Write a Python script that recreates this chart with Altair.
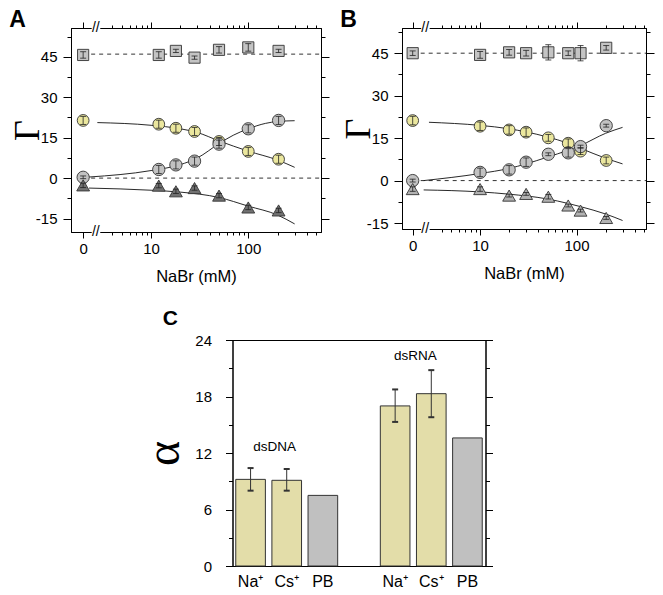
import altair as alt
import pandas as pd

ZERO_AT = 2          # axis position (mM, log scale) where the "0" salt point is drawn
BREAK_AT = 2.7       # position of the axis break marks
BREAK_LO, BREAK_HI = 2.45, 3.0

# ---------------- Panel A ----------------
A_conc = [0, 12, 18, 28, 50, 100, 205]
A_square = [45.7, 45.7, 47.2, 44.7, 47.6, 48.5, 47.2]
A_square_err = [1.2, 1.2, 0.6, 0.6, 1.2, 1.4, 0.6]
A_yellow = [21.4, 20.0, 18.5, 17.3, 13.6, 9.9, 7.0]
A_yellow_err = [1.5, 1.5, 1.5, 1.5, 1.5, 1.5, 1.5]
A_gray = [0.3, 3.2, 4.9, 6.3, 12.6, 18.3, 21.4]
A_gray_err = [0.5, 1.5, 1.5, 1.5, 1.5, 1.5, 1.5]
A_tri = [-2.7, -2.8, -4.9, -3.7, -6.5, -10.9, -12.0]
A_tri_err = [0.8, 0.8, 0.8, 0.8, 0.8, 0.8, 0.8]
A_fit_yellow_x = [2.8, 10, 20, 30, 50, 100, 200, 300]
A_fit_yellow_y = [20.6, 19.6, 18.3, 16.9, 13.8, 10.0, 6.7, 4.0]
A_fit_gray_x = [2.3, 10, 20, 30, 50, 70, 100, 150, 200, 300]
A_fit_gray_y = [0.4, 2.8, 5.0, 7.5, 12.8, 15.9, 18.3, 20.3, 21.0, 21.3]
A_fit_tri_x = [2.3, 10, 20, 50, 100, 200, 300]
A_fit_tri_y = [-3.7, -4.5, -5.2, -7.2, -10.4, -13.7, -17.0]
A_dash = [46, 0]
A_fills = ["#c4c4c4", "#ebe79e", "#c2c2c2", "#727272"]

# ---------------- Panel B ----------------
B_conc = [0, 10, 20, 30, 51, 82, 110, 203]
B_square = [45.0, 44.4, 45.3, 45.0, 45.3, 45.0, 45.0, 46.9]
B_square_err = [0.8, 1.2, 1.0, 1.0, 2.7, 0.8, 2.7, 0.8]
B_yellow = [21.2, 19.2, 17.9, 17.1, 15.1, 13.2, 10.4, 7.1]
B_yellow_err = [1.5, 1.5, 1.5, 1.5, 1.2, 1.5, 1.2, 1.2]
B_gray = [0.0, 2.9, 3.8, 6.5, 9.3, 9.8, 12.0, 19.4]
B_gray_err = [0.5, 1.5, 1.5, 1.5, 0.5, 1.5, 0.5, 0.5]
B_tri = [-3.0, -3.0, -5.3, -4.7, -5.7, -8.8, -10.6, -13.2]
B_tri_err = [0.8, 0.8, 0.5, 0.5, 0.8, 0.5, 0.5, 0.5]
B_fit_yellow_x = [2.95, 10, 20, 30, 50, 80, 110, 200, 300]
B_fit_yellow_y = [20.6, 19.5, 18.3, 17.2, 15.4, 13.3, 11.4, 7.9, 5.9]
B_fit_gray_x = [2.6, 10, 20, 30, 50, 80, 110, 200, 300]
B_fit_gray_y = [0.0, 2.5, 4.3, 5.9, 8.3, 10.6, 12.4, 16.7, 18.8]
B_fit_tri_x = [2.6, 10, 20, 50, 80, 110, 200, 300]
B_fit_tri_y = [-3.3, -4.0, -4.8, -6.5, -8.0, -9.2, -11.8, -14.1]
B_dash = [45, 0]
B_fills = ["#c4c4c4", "#ebe79e", "#c2c2c2", "#b2b2b2"]

# ---------------- Panel C ----------------
C_keys = ["1|Na⁺", "2|Cs⁺", "3|PB", "4|", "5|Na⁺", "6|Cs⁺", "7|PB"]
C_bar_keys = ["1|Na⁺", "2|Cs⁺", "3|PB", "5|Na⁺", "6|Cs⁺", "7|PB"]
C_values = [9.2, 9.1, 7.5, 17.0, 18.3, 13.6]
C_kind = ["ion", "ion", "pb", "ion", "ion", "pb"]
C_err_keys = ["1|Na⁺", "2|Cs⁺", "5|Na⁺", "6|Cs⁺"]
C_err_lo = [8.0, 8.0, 15.3, 15.8]
C_err_hi = [10.4, 10.3, 18.75, 20.8]
C_label_DNA = ("dsDNA", "2|Cs⁺", 12.6)
C_label_RNA = ("dsRNA", "6|Cs⁺", 22.3)

SERIES = ["sq", "yc", "gc", "tr"]
SHAPES = ["square", "circle", "circle", "triangle-up"]
SIZES = [125, 165, 165, 190]

SANS = "Liberation Sans"
SERIF = "Liberation Serif"

X_TICKS = [2, 4, 5, 6, 7, 8, 9, 10, 20, 30, 40, 50, 60, 70, 80, 90, 100, 200, 300, 400, 500]
X_MAJOR = "datum.value == 2 || datum.value == 10 || datum.value == 100"
X_LABELS = "datum.value == 2 ? '0' : (datum.value == 10 ? '10' : (datum.value == 100 ? '100' : ''))"


def x_axis(orient):
    common = dict(values=X_TICKS, orient=orient,
                  tickSize={"condition": {"test": X_MAJOR, "value": 6}, "value": 3})
    if orient == "bottom":
        return alt.Axis(title="NaBr (mM)", labelExpr=X_LABELS, labelFontSize=15,
                        labelPadding=3, titleFontSize=16.5, titlePadding=12,
                        titleFontWeight="normal", labelOverlap=False, labelFlush=False,
                        **common)
    return alt.Axis(title=None, labels=False, **common)


def y_axis(orient, values, step, major=8, minor=4, title=None, tsize=36, tpad=-11, lpad=6):
    test = f"abs(datum.value % {step}) < 0.001"
    common = dict(values=values, orient=orient,
                  tickSize={"condition": {"test": test, "value": major}, "value": minor})
    if orient == "left":
        return alt.Axis(title=title, titleFont=SERIF, titleFontSize=tsize,
                        titleFontWeight="normal", titlePadding=tpad,
                        labelExpr=f"{test} ? '' + datum.value : ''",
                        labelFontSize=15, labelPadding=lpad, labelOverlap=False,
                        labelFlush=False, **common)
    return alt.Axis(title=None, labels=False, **common)


def gamma_panel(letter, conc, vals, errs, fits, dash, fills, xdom, ydom, w, h):
    rows = []
    for key in SERIES:
        for c, v, e in zip(conc, vals[key], errs[key]):
            rows.append(dict(conc=c, val=v, lo=v - e, hi=v + e, series=key))
    pts = pd.DataFrame(rows)
    frows = []
    for key, (fx, fy) in fits.items():
        for a, b in zip(fx, fy):
            frows.append(dict(conc=a, val=b, series=key))
    fit_df = pd.DataFrame(frows)
    dash_df = pd.DataFrame({"level": dash, "conc": [0] * len(dash), "xend": [xdom[1]] * len(dash)})
    brk = pd.DataFrame({"lo": [BREAK_LO], "hi": [BREAK_HI], "at": [BREAK_AT]})

    xs = alt.Scale(type="log", domain=xdom)
    ys = alt.Scale(domain=ydom, nice=False, zero=False)
    yvals = [v for v in [-15, -7.5, 0, 7.5, 15, 22.5, 30, 37.5, 45, 52.5] if ydom[0] <= v <= ydom[1]]
    calc = f"datum.conc == 0 ? {ZERO_AT} : datum.conc"

    dash_l = alt.Chart(dash_df).transform_calculate(xpos=calc).mark_rule(
        strokeDash=[4, 4], color="#333", strokeWidth=1).encode(
        x=alt.X("xpos:Q", scale=xs, axis=x_axis("bottom")),
        x2="xend:Q",
        y=alt.Y("level:Q", scale=ys, axis=y_axis("left", yvals, 15, title="Γ")))

    fit_l = alt.Chart(fit_df).mark_line(color="#111", strokeWidth=0.9, interpolate="monotone").encode(
        x=alt.X("conc:Q", scale=xs, axis=x_axis("top")),
        y=alt.Y("val:Q", scale=ys, axis=y_axis("right", yvals, 15)),
        detail="series:N")

    base = alt.Chart(pts).transform_calculate(xpos=calc)
    pt_l = base.mark_point(filled=True, opacity=1, stroke="#333", strokeWidth=0.9).encode(
        x=alt.X("xpos:Q", scale=xs, axis=None),
        y=alt.Y("val:Q", scale=ys, axis=None),
        shape=alt.Shape("series:N", scale=alt.Scale(domain=SERIES, range=SHAPES), legend=None),
        fill=alt.Fill("series:N", scale=alt.Scale(domain=SERIES, range=fills), legend=None),
        size=alt.Size("series:N", scale=alt.Scale(domain=SERIES, range=SIZES), legend=None))
    err_l = base.mark_rule(color="#222", strokeWidth=0.8).encode(
        x=alt.X("xpos:Q", scale=xs, axis=None),
        y=alt.Y("lo:Q", scale=ys, axis=None), y2="hi:Q")
    cap_lo = base.mark_point(shape="stroke", size=36, color="#222", strokeWidth=0.8, opacity=1).encode(
        x=alt.X("xpos:Q", scale=xs, axis=None), y=alt.Y("lo:Q", scale=ys, axis=None))
    cap_hi = base.mark_point(shape="stroke", size=36, color="#222", strokeWidth=0.8, opacity=1).encode(
        x=alt.X("xpos:Q", scale=xs, axis=None), y=alt.Y("hi:Q", scale=ys, axis=None))

    mask_t = alt.Chart(brk).mark_rect(color="white").encode(
        x=alt.X("lo:Q", scale=xs, axis=None), x2="hi:Q", y=alt.value(-3), y2=alt.value(3))
    mask_b = alt.Chart(brk).mark_rect(color="white").encode(
        x=alt.X("lo:Q", scale=xs, axis=None), x2="hi:Q", y=alt.value(h - 3), y2=alt.value(h + 3))
    slash_t = alt.Chart(brk).mark_text(text="//", fontSize=14, font=SANS, baseline="middle").encode(
        x=alt.X("at:Q", scale=xs, axis=None), y=alt.value(0))
    slash_b = alt.Chart(brk).mark_text(text="//", fontSize=14, font=SANS, baseline="middle").encode(
        x=alt.X("at:Q", scale=xs, axis=None), y=alt.value(h))

    return alt.layer(dash_l, fit_l, pt_l, err_l, cap_lo, cap_hi, mask_t, mask_b, slash_t, slash_b).resolve_axis(
        x="independent", y="independent").resolve_scale(fill="independent").properties(
        width=w, height=h,
        title=alt.TitleParams(letter, anchor="start", fontSize=23, fontWeight="bold", font=SANS, offset=-11))


A = gamma_panel("A", A_conc,
                {"sq": A_square, "yc": A_yellow, "gc": A_gray, "tr": A_tri},
                {"sq": A_square_err, "yc": A_yellow_err, "gc": A_gray_err, "tr": A_tri_err},
                {"yc": (A_fit_yellow_x, A_fit_yellow_y), "gc": (A_fit_gray_x, A_fit_gray_y),
                 "tr": (A_fit_tri_x, A_fit_tri_y)},
                A_dash, A_fills, [1.5, 560], [-20, 55.7], 250, 204)
B = gamma_panel("B", B_conc,
                {"sq": B_square, "yc": B_yellow, "gc": B_gray, "tr": B_tri},
                {"sq": B_square_err, "yc": B_yellow_err, "gc": B_gray_err, "tr": B_tri_err},
                {"yc": (B_fit_yellow_x, B_fit_yellow_y), "gc": (B_fit_gray_x, B_fit_gray_y),
                 "tr": (B_fit_tri_x, B_fit_tri_y)},
                B_dash, B_fills, [1.55, 525], [-17.1, 53.9], 244, 201)

# ---------------- Panel C chart ----------------
bars_df = pd.DataFrame({"key": C_bar_keys, "val": C_values, "kind": C_kind})
err_df = pd.DataFrame({"key": C_err_keys, "lo": C_err_lo, "hi": C_err_hi})
xc = alt.Scale(domain=C_keys, paddingInner=0.18, paddingOuter=0.09)
yc = alt.Scale(domain=[0, 24], nice=False)
CY = [0, 3, 6, 9, 12, 15, 18, 21, 24]

bars = alt.Chart(bars_df).mark_bar(stroke="#333", strokeWidth=1).encode(
    x=alt.X("key:N", scale=xc, sort=C_keys,
            axis=alt.Axis(title=None, labelExpr="split(datum.label, '|')[1]", ticks=False,
                          labelAngle=0, labelFontSize=16, labelPadding=7)),
    y=alt.Y("val:Q", scale=yc, axis=y_axis("left", CY, 6, major=7, minor=4, title="α",
                                            tsize=48, tpad=6, lpad=14)),
    fill=alt.Fill("kind:N", scale=alt.Scale(domain=["ion", "pb"], range=["#e3dda9", "#c0c0c0"]), legend=None))
cerr = alt.Chart(err_df).mark_rule(color="#333", strokeWidth=1).encode(
    x=alt.X("key:N", scale=xc, axis=None),
    y=alt.Y("lo:Q", scale=yc, axis=y_axis("right", CY, 6, major=7, minor=4)), y2="hi:Q")
ccap_lo = alt.Chart(err_df).mark_point(shape="stroke", size=36, color="#333", opacity=1).encode(
    x=alt.X("key:N", scale=xc, axis=None), y=alt.Y("lo:Q", scale=yc, axis=None))
ccap_hi = alt.Chart(err_df).mark_point(shape="stroke", size=36, color="#333", opacity=1).encode(
    x=alt.X("key:N", scale=xc, axis=None), y=alt.Y("hi:Q", scale=yc, axis=None))
lab_dna = alt.Chart(pd.DataFrame({"t": [C_label_DNA[0]], "key": [C_label_DNA[1]], "y": [C_label_DNA[2]]})).mark_text(
    fontSize=13.5, font=SANS, dx=-12).encode(
    x=alt.X("key:N", scale=xc, axis=None), y=alt.Y("y:Q", scale=yc, axis=None), text="t:N")
lab_rna = alt.Chart(pd.DataFrame({"t": [C_label_RNA[0]], "key": [C_label_RNA[1]], "y": [C_label_RNA[2]]})).mark_text(
    fontSize=13.5, font=SANS, dx=-16).encode(
    x=alt.X("key:N", scale=xc, axis=None), y=alt.Y("y:Q", scale=yc, axis=None), text="t:N")

C = alt.layer(bars, cerr, ccap_lo, ccap_hi, lab_dna, lab_rna).resolve_axis(
    x="independent", y="independent").properties(
    width=253, height=226,
    title=alt.TitleParams("C", anchor="start", fontSize=21, fontWeight="bold", font=SANS,
                          offset=4, dx=22))

top = alt.hconcat(A, B, spacing=9)
chart = alt.vconcat(top, C, spacing=22, center=True).resolve_scale(
    fill="independent", shape="independent", size="independent").properties(padding=0).configure_view(
    stroke="black", strokeWidth=1).configure_axis(
    domainColor="black", tickColor="black", labelColor="black", titleColor="black",
    labelFont=SANS, titleFont=SANS, grid=False, tickWidth=1, domainWidth=1).configure_title(
    color="black")

chart.save("out.html", embed_options={"renderer": "svg", "actions": False})
